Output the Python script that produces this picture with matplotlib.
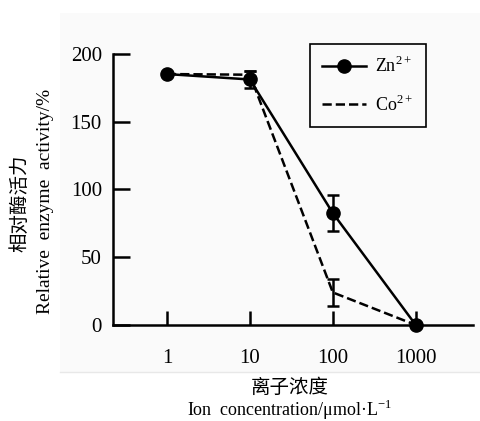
import matplotlib
matplotlib.use('Agg')
import matplotlib.pyplot as plt
from matplotlib.lines import Line2D
from matplotlib.patches import Rectangle
from matplotlib.ticker import NullLocator

plt.rcParams['font.family'] = ['Liberation Serif', 'Noto Sans CJK SC']
plt.rcParams['mathtext.fontset'] = 'custom'
plt.rcParams['mathtext.rm'] = 'Liberation Serif'

# data
conc = [1, 10, 100, 1000]
conc_labels = ['1', '10', '100', '1000']
zn = [185, 181, 82.5, 0]
zn_err = [0, 6, 13, 0]
co = [185, 184.5, 24, 0]
co_err = [0, 3, 10, 0]
yticks = [0, 50, 100, 150, 200]

fig = plt.figure(figsize=(4.81, 4.21), dpi=100)
fig.patch.set_facecolor('white')
# light grey panel behind the plot
fig.patches.append(Rectangle((60/481, 1-372/421), 1-60/481, (372-13)/421,
                             transform=fig.transFigure, facecolor='#fafafa',
                             edgecolor='none', zorder=-5))
fig.add_artist(Line2D([60/481, 1], [1-372/421, 1-372/421], color='#e8e8e8',
                      lw=1, zorder=-4))

ax = fig.add_axes([113/481, 1-325/421, 360/481, (325-53.7)/421])
ax.set_facecolor('none')
ax.set_zorder(2)

lw = 1.8
ax.errorbar(conc, co, yerr=co_err, color='black', ls='--', lw=lw,
            capsize=4, capthick=lw, elinewidth=lw, clip_on=False, zorder=3)
ax.errorbar(conc, zn, yerr=zn_err, color='black', ls='-', lw=lw, marker='o',
            markersize=9.5, capsize=4, capthick=lw, elinewidth=lw,
            clip_on=False, zorder=4)

ax.set_xscale('log')
ax.set_xlim(10**-0.65, 10**3.69)
ax.set_ylim(0, 200)
ax.set_xticks(conc)
ax.set_xticklabels(conc_labels)
ax.xaxis.set_minor_locator(NullLocator())
ax.set_yticks(yticks)

for s in ['top', 'right']:
    ax.spines[s].set_visible(False)
for s in ['left', 'bottom']:
    ax.spines[s].set_linewidth(lw)
ax.tick_params(axis='x', direction='in', length=10, width=lw, pad=17, labelsize=15)
ax.tick_params(axis='y', direction='in', length=12, width=lw, pad=8, labelsize=15)

fig.text(20/481, 1-203/421, '相对酶活力', rotation=90, ha='center', va='center',
         fontsize=14, family=['Noto Sans CJK SC'])
fig.text(46/481, 1-201/421, 'Relative  enzyme  activity/%', rotation=90,
         ha='center', va='center', fontsize=14)
fig.text(290/481, 1-387/421, '离子浓度', ha='center', va='center',
         fontsize=14, family=['Noto Sans CJK SC'])
fig.text(290/481, 1-410/421, r'Ion  concentration/μmol·L$^{-1}$',
         ha='center', va='center', fontsize=13)

handles = [Line2D([], [], color='black', lw=lw, marker='o', markersize=9.5),
           Line2D([], [], color='black', lw=lw, ls='--')]
leg = ax.legend(handles, [r'Zn$^{2+}$', r'Co$^{2+}$'], loc='upper right',
                bbox_to_anchor=(0.869, 1.037), borderaxespad=0, fontsize=13,
                handlelength=2.4, handletextpad=0.5, labelspacing=1.0,
                fancybox=False, framealpha=1, borderpad=0.7)
leg.get_frame().set_edgecolor('black')
leg.get_frame().set_linewidth(1.2)
leg.get_frame().set_facecolor('#fafafa')

fig.savefig('out.png', dpi=100)
